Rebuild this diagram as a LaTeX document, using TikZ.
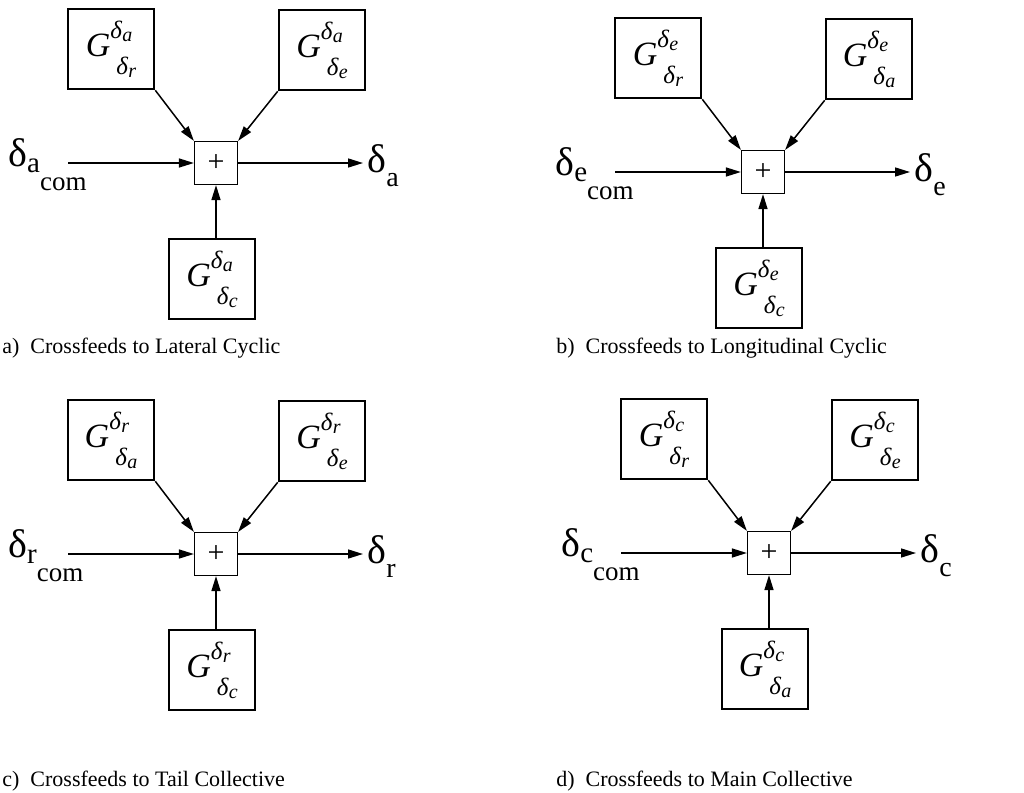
\documentclass[tikz,border=0pt]{standalone}
\usepackage{fontspec}
\setmainfont{Liberation Serif}
\usetikzlibrary{arrows.meta,positioning}
\newcommand{\xgain}[2]{\textit{G}\rlap{\raisebox{9pt}{\fontsize{12.5}{13}\selectfont\textit{δ}\raisebox{-1.5pt}{\fontsize{10}{10}\selectfont\textit{#1}}}}\hspace{3pt}\raisebox{-9pt}{\fontsize{12.5}{13}\selectfont\textit{δ}\raisebox{-1.5pt}{\fontsize{10}{10}\selectfont\textit{#2}}}}
\newcommand{\xin}[1]{δ\raisebox{-3pt}{\fontsize{14.5}{15}\selectfont #1}\raisebox{-12pt}{\fontsize{13.5}{14}\selectfont com}}
\newcommand{\xout}[1]{δ\raisebox{-7pt}{\fontsize{14}{14}\selectfont #1}}

\begin{document}
\begin{tikzpicture}[x=0.5pt,y=-0.5pt,
 gbox/.style={draw,line width=1.3pt,minimum width=43pt,minimum height=40pt,inner sep=0pt,font=\fontsize{17}{19}\selectfont},
 sumbox/.style={draw,line width=0.6pt,minimum size=21.5pt,inner sep=0pt,font=\fontsize{15}{17}\selectfont},
 sig/.style={inner sep=0pt,anchor=base west,font=\fontsize{20}{22}\selectfont},
 captext/.style={inner sep=0pt,anchor=base west,font=\fontsize{11}{13}\selectfont},
 arr/.style={line width=0.75pt,-{Triangle[length=7.5pt,width=4.5pt]}}]
\useasboundingbox (0,0) rectangle (1024,793);
\foreach \px/\py/\o/\tl/\tr/\bt/\cx/\cy/\l/\txt in {216/163/a/r/e/c/2/353/a/{Lateral Cyclic},
 763/172/e/r/a/c/556/353/b/{Longitudinal Cyclic},
 216/554/r/a/e/c/2/786/c/{Tail Collective},
 769/553/c/r/e/a/556/786/d/{Main Collective}}{
 \node[sumbox](sum\o) at (\px,\py){+};
 \node[gbox](tl\o) at (\px-105,\py-114){\xgain{\o}{\tl}};
 \node[gbox](tr\o) at (\px+106,\py-113){\xgain{\o}{\tr}};
 \node[gbox](bt\o) at (\px-4,\py+116){\xgain{\o}{\bt}};
 \coordinate (in\o) at (\px-148,\py);
 \coordinate (out\o) at (\px+147,\py);
 \node[sig](lin\o) at (\px-208,\py+3){\xin{\o}};
 \node[sig](lout\o) at (\px+151,\py+9){\xout{\o}};
 \node[captext](cap\o) at (\cx,\cy){\l)\ \ Crossfeeds to \txt};
 \draw[arr](in\o)--(sum\o);\draw[arr](sum\o)--(out\o);
 \draw[arr](tl\o.south east)--(sum\o.north west);\draw[arr](tr\o.south west)--(sum\o.north east);
 \draw[arr](bt\o.north -| sum\o)--(sum\o);
}
\end{tikzpicture}
\end{document}
